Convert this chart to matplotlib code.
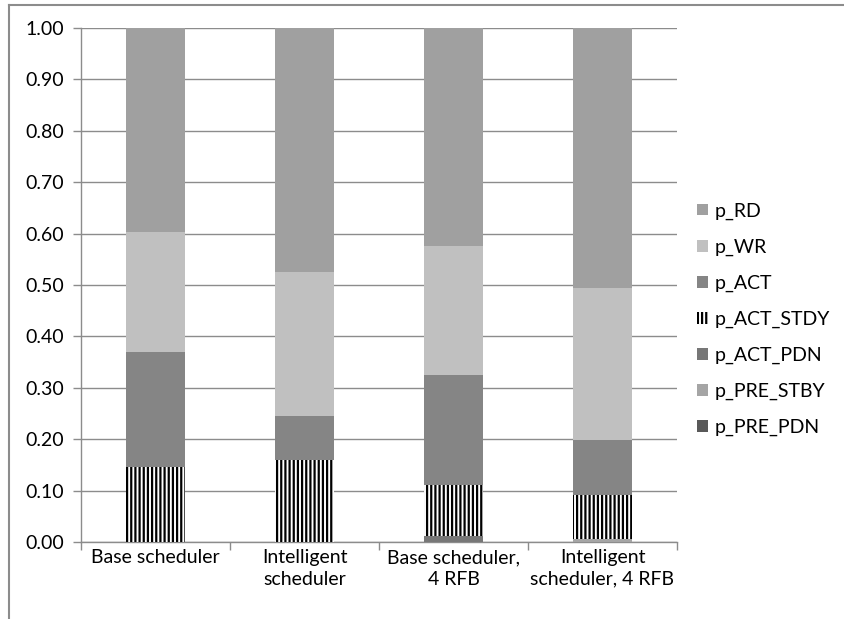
import matplotlib

matplotlib.use("Agg")

import matplotlib.pyplot as plt
import numpy as np
from matplotlib.lines import Line2D

CATEGORIES = ["Base scheduler", "Intelligent\nscheduler", "Base scheduler,\n4 RFB", "Intelligent\nscheduler, 4 RFB"]

# stacked bottom -> top
SERIES = ["p_PRE_PDN", "p_PRE_STBY", "p_ACT_PDN", "p_ACT_STDY", "p_ACT", "p_WR", "p_RD"]
p_PRE_PDN = [0.000, 0.000, 0.000, 0.000]
p_PRE_STBY = [0.000, 0.000, 0.000, 0.005]
p_ACT_PDN = [0.000, 0.000, 0.012, 0.000]
p_ACT_STDY = [0.146, 0.160, 0.098, 0.086]
p_ACT = [0.224, 0.085, 0.215, 0.107]
p_WR = [0.233, 0.280, 0.251, 0.296]
p_RD = [0.397, 0.475, 0.424, 0.506]

COLORS = {
    "p_PRE_PDN": "#595959",
    "p_PRE_STBY": "#a5a5a5",
    "p_ACT_PDN": "#777777",
    "p_ACT_STDY": "white",
    "p_ACT": "#858585",
    "p_WR": "#c0c0c0",
    "p_RD": "#a0a0a0",
}

plt.rcParams.update({
    "font.family": ["Lato", "DejaVu Sans"],
    "font.size": 14,
    "hatch.linewidth": 1.6,
    "hatch.color": "black",
})

values = {
    "p_PRE_PDN": p_PRE_PDN,
    "p_PRE_STBY": p_PRE_STBY,
    "p_ACT_PDN": p_ACT_PDN,
    "p_ACT_STDY": p_ACT_STDY,
    "p_ACT": p_ACT,
    "p_WR": p_WR,
    "p_RD": p_RD,
}

fig = plt.figure(figsize=(8.44, 6.19), dpi=100)
ax = fig.add_axes([81 / 844, 1 - 542 / 619, 596 / 844, 514 / 619])

x = np.arange(len(CATEGORIES))
bottom = np.zeros(len(CATEGORIES))
handles = {}
for name in SERIES:
    vals = np.array(values[name])
    if name == "p_ACT_STDY":
        bars = ax.bar(x, vals, bottom=bottom, width=0.4, color="white", hatch="||||",
                      edgecolor="black", linewidth=0, zorder=3)
    else:
        bars = ax.bar(x, vals, bottom=bottom, width=0.4, color=COLORS[name],
                      linewidth=0, zorder=3)
    handles[name] = bars
    bottom += vals

ax.set_xlim(-0.5, len(CATEGORIES) - 0.5)
ax.set_ylim(0, 1.0)
ax.set_yticks(np.arange(0, 1.01, 0.1))
ax.set_yticklabels([f"{v:.2f}" for v in np.arange(0, 1.01, 0.1)])
ax.yaxis.grid(True, color="#8c8c8c", linewidth=1.0, zorder=0)
ax.set_axisbelow(True)

ax.set_xticks(x)
ax.set_xticklabels(CATEGORIES, linespacing=1.35)
ax.tick_params(axis="x", length=0, pad=5)
ax.set_xticks(np.arange(-0.5, len(CATEGORIES), 1.0), minor=True)
ax.tick_params(axis="x", which="minor", length=6, color="#8c8c8c", width=1.0)
ax.tick_params(axis="y", length=6, color="#8c8c8c", width=1.0, pad=6)

for side in ["top", "right"]:
    ax.spines[side].set_visible(False)
for side in ["left", "bottom"]:
    ax.spines[side].set_color("#8c8c8c")
    ax.spines[side].set_linewidth(1.0)

legend_order = list(reversed(SERIES))
leg = ax.legend([handles[n] for n in legend_order], legend_order,
                loc="center left", bbox_to_anchor=(1.005, 0.433), frameon=False,
                handlelength=0.55, handleheight=0.55, handletextpad=0.35,
                labelspacing=0.97, fontsize=14)

# chart area border (top and left edges visible)
fig.add_artist(Line2D([9 / 844, 9 / 844], [0, 1 - 5 / 619], color="#8c8c8c", linewidth=1.5))
fig.add_artist(Line2D([9 / 844, 1], [1 - 5 / 619, 1 - 5 / 619], color="#8c8c8c", linewidth=1.5))

fig.savefig("out.png", dpi=100)
